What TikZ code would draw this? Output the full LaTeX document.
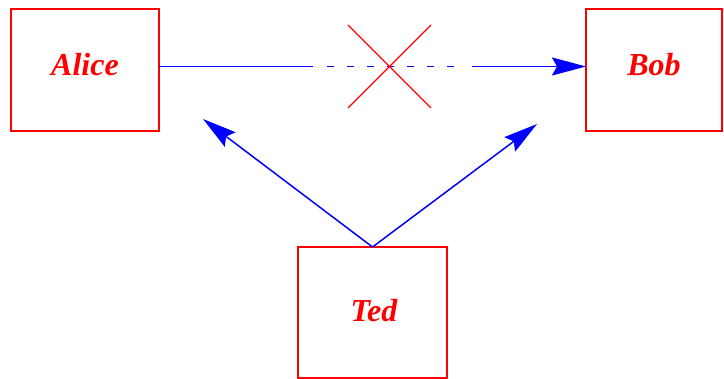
\documentclass[tikz,border=0pt]{standalone}
\usepackage{fontspec}
\setmainfont{Liberation Serif}
\usetikzlibrary{arrows.meta}
\definecolor{pred}{RGB}{255,0,0}
\definecolor{pblue}{RGB}{0,0,255}
\tikzset{
  boxshape/.style={draw=pred, line width=1.5pt, rectangle, inner sep=0pt, outer sep=0pt},
  lbltext/.style={text=pred, font=\fontsize{32}{32}\selectfont\bfseries\itshape, anchor=base, inner sep=0pt},
  conn/.style={draw=pblue, line width=1.5pt},
  tiphead/.style={-{Stealth[length=34pt,width=18pt,inset=5pt]}},
  crossline/.style={draw=pred, line width=1.2pt}
}
\begin{document}
\begin{tikzpicture}[x=1pt,y=-1pt]
\useasboundingbox (0,0) rectangle (724,379);
\node[boxshape, minimum width=148pt, minimum height=122pt] (alice) at (85,70) {};
\node[boxshape, minimum width=136pt, minimum height=122pt] (bob) at (654,70) {};
\node[boxshape, minimum width=149pt, minimum height=131pt] (ted) at (372.5,312.5) {};
\node[lbltext] (alicet) at (85,75.5) {Alice};
\node[lbltext] (bobt) at (654,75.5) {Bob};
\node[lbltext] (tedt) at (374,322) {Ted};
% blocked message
\coordinate (s1) at (313,66.5);
\coordinate (d1) at (327,66.5);
\coordinate (d2) at (455,66.5);
\coordinate (s2) at (472,66.5);
\draw[conn] (alice.east |- s1) -- (s1);
\draw[conn, dash pattern=on 7pt off 13pt] (d1) -- (d2);
\draw[conn, tiphead] (s2) -- (bob.west |- s2);
% cross
\coordinate (c1) at (348,25);
\coordinate (c2) at (431,108);
\coordinate (c3) at (431,25);
\coordinate (c4) at (348,108);
\draw[crossline] (c1) -- (c2);
\draw[crossline] (c3) -- (c4);
% Ted arrows
\coordinate (ta) at (203,119);
\coordinate (tb) at (537,124);
\draw[conn, tiphead] (ted.north) -- (ta);
\draw[conn, tiphead] (ted.north) -- (tb);
\end{tikzpicture}
\end{document}
